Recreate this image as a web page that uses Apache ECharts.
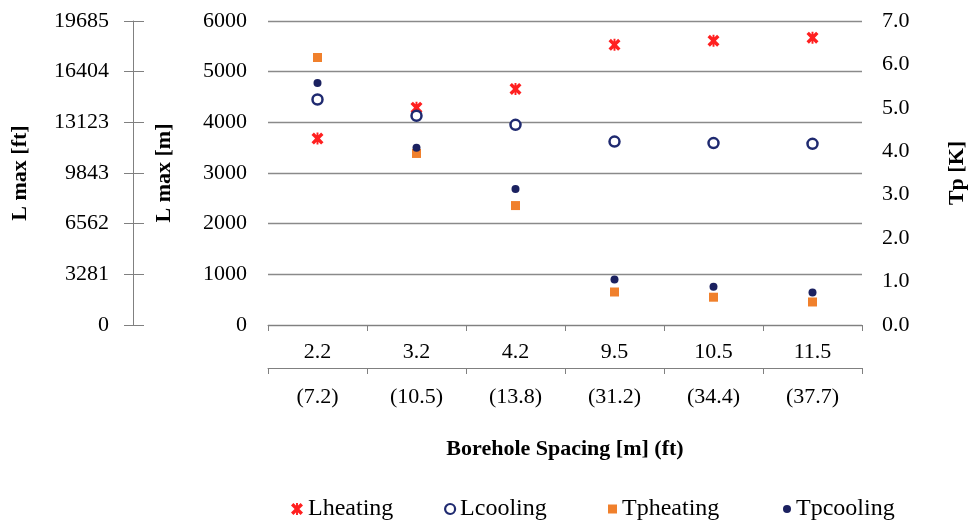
<!DOCTYPE html>
<html>
<head>
<meta charset="utf-8">
<script src="https://cdn.jsdelivr.net/npm/echarts@6/dist/echarts.min.js"></script>
<style>html,body{margin:0;padding:0;background:#fff}#c{width:969px;height:521px}</style>
</head>
<body>
<div id="c"></div>
<script>
var spacingM = ['2.2', '3.2', '4.2', '9.5', '10.5', '11.5'];
var spacingFt = ['(7.2)', '(10.5)', '(13.8)', '(31.2)', '(34.4)', '(37.7)'];
var ftTicks = ['0', '3281', '6562', '9843', '13123', '16404', '19685'];
var lHeating = [3680, 4290, 4660, 5530, 5610, 5670];
var lCooling = [4450, 4130, 3950, 3620, 3590, 3575];
var tpHeating = [6.16, 3.95, 2.75, 0.76, 0.64, 0.53];
var tpCooling = [5.57, 4.08, 3.13, 1.05, 0.88, 0.75];

var FONT = '"Liberation Serif", "Times New Roman", serif';
var AX = '#808080';
var starPath = 'path://M0,2 L2,0 L5,3 L8,0 L10,2 L7,5 L10,8 L8,10 L5,7 L2,10 L0,8 L3,5 Z M4.2,0 L5.8,0 L5.8,10 L4.2,10 Z';

var chart = echarts.init(document.getElementById('c'), null, {renderer: 'canvas'});
function legendAt(name, left, icon, w, h, itemStyle) {
  var d = {name: name, icon: icon};
  if (itemStyle) d.itemStyle = itemStyle;
  return {
    show: true, data: [d], left: left, top: 497,
    itemWidth: w, itemHeight: h, itemGap: 0, padding: 0,
    textStyle: {fontFamily: FONT, fontSize: 24, color: '#000', lineHeight: 24}
  };
}
var option = {
  animation: false,
  backgroundColor: '#fff',
  textStyle: {fontFamily: FONT},
  grid: {left: 268, right: 107, top: 21, bottom: 196, containLabel: false, outerBoundsMode: 'none'},
  legend: [
    legendAt('Lheating', 291, starPath, 12, 12),
    legendAt('Lcooling', 444, 'circle', 10, 10, {color: '#ffffff', borderColor: '#1f2a70', borderWidth: 2.2}),
    legendAt('Tpheating', 608, 'rect', 9, 9),
    legendAt('Tpcooling', 783, 'circle', 8, 8)
  ],
  xAxis: [
    {
      type: 'category', data: spacingM, position: 'bottom', boundaryGap: true,
      axisLine: {show: true, onZero: false, lineStyle: {color: AX, width: 1}},
      axisTick: {show: true, interval: 0, length: 6, lineStyle: {color: AX}},
      axisLabel: {interval: 0, margin: 16, fontFamily: FONT, fontSize: 22, color: '#000'},
      splitLine: {show: false}
    },
    {
      type: 'category', data: spacingFt, position: 'bottom', offset: 43, boundaryGap: true,
      axisLine: {show: true, onZero: false, lineStyle: {color: AX, width: 1}},
      axisTick: {show: true, interval: 0, length: 6, lineStyle: {color: AX}},
      axisLabel: {interval: 0, margin: 18, fontFamily: FONT, fontSize: 22, color: '#000'},
      splitLine: {show: false},
      name: 'Borehole Spacing [m] (ft)', nameLocation: 'middle', nameGap: 70,
      nameTextStyle: {fontFamily: FONT, fontSize: 22, fontWeight: 'bold', color: '#000'}
    }
  ],
  yAxis: [
    {
      type: 'value', position: 'left', min: 0, max: 6000, interval: 1000,
      axisLine: {show: false, onZero: false}, axisTick: {show: false},
      axisLabel: {margin: 21, fontFamily: FONT, fontSize: 22, color: '#000',
        formatter: function (v) { return String(v); }},
      splitLine: {show: true, lineStyle: {color: '#8a8a8a', width: 1.3}},
      name: 'L max [m]', nameLocation: 'middle', nameGap: 93, nameRotate: 90,
      nameTextStyle: {fontFamily: FONT, fontSize: 22, fontWeight: 'bold', color: '#000'}
    },
    {
      type: 'value', position: 'right', min: 0, max: 7, interval: 1,
      axisLine: {show: false, onZero: false}, axisTick: {show: false},
      axisLabel: {margin: 20, fontFamily: FONT, fontSize: 22, color: '#000',
        formatter: function (v) { return v.toFixed(1); }},
      splitLine: {show: false},
      name: 'Tp [K]', nameLocation: 'middle', nameGap: 84, nameRotate: 90,
      nameTextStyle: {fontFamily: FONT, fontSize: 22, fontWeight: 'bold', color: '#000'}
    },
    {
      type: 'value', position: 'left', offset: 135, min: 0, max: 6000, interval: 1000,
      axisLine: {show: true, onZero: false, lineStyle: {color: AX, width: 1}},
      axisTick: {show: true, inside: false, length: 9, lineStyle: {color: AX}},
      axisLabel: {margin: 24, fontFamily: FONT, fontSize: 22, color: '#000',
        formatter: function (v) { return ftTicks[Math.round(v / 1000)]; }},
      splitLine: {show: false},
      name: 'L max [ft]', nameLocation: 'middle', nameGap: 102, nameRotate: 90,
      nameTextStyle: {fontFamily: FONT, fontSize: 22, fontWeight: 'bold', color: '#000'}
    },
    {
      type: 'value', position: 'left', offset: 124, min: 0, max: 6000, interval: 1000,
      axisLine: {show: false, onZero: false},
      axisTick: {show: true, inside: false, length: 11, lineStyle: {color: AX}},
      axisLabel: {show: false}, splitLine: {show: false}
    }
  ],
  series: [
    {name: 'Lheating', type: 'scatter', yAxisIndex: 0, data: lHeating,
     symbol: starPath, symbolSize: 12, itemStyle: {color: '#ff2020', opacity: 1}},
    {name: 'Lcooling', type: 'scatter', yAxisIndex: 0, data: lCooling,
     symbol: 'circle', symbolSize: 10,
     itemStyle: {color: '#ffffff', borderColor: '#1f2a70', borderWidth: 2.5, opacity: 1}},
    {name: 'Tpheating', type: 'scatter', yAxisIndex: 1, data: tpHeating,
     symbol: 'rect', symbolSize: 9, itemStyle: {color: '#f0802c', opacity: 1}},
    {name: 'Tpcooling', type: 'scatter', yAxisIndex: 1, data: tpCooling,
     symbol: 'circle', symbolSize: 8, itemStyle: {color: '#1b2160', opacity: 1}}
  ]
};
chart.setOption(option);
</script>
</body>
</html>
